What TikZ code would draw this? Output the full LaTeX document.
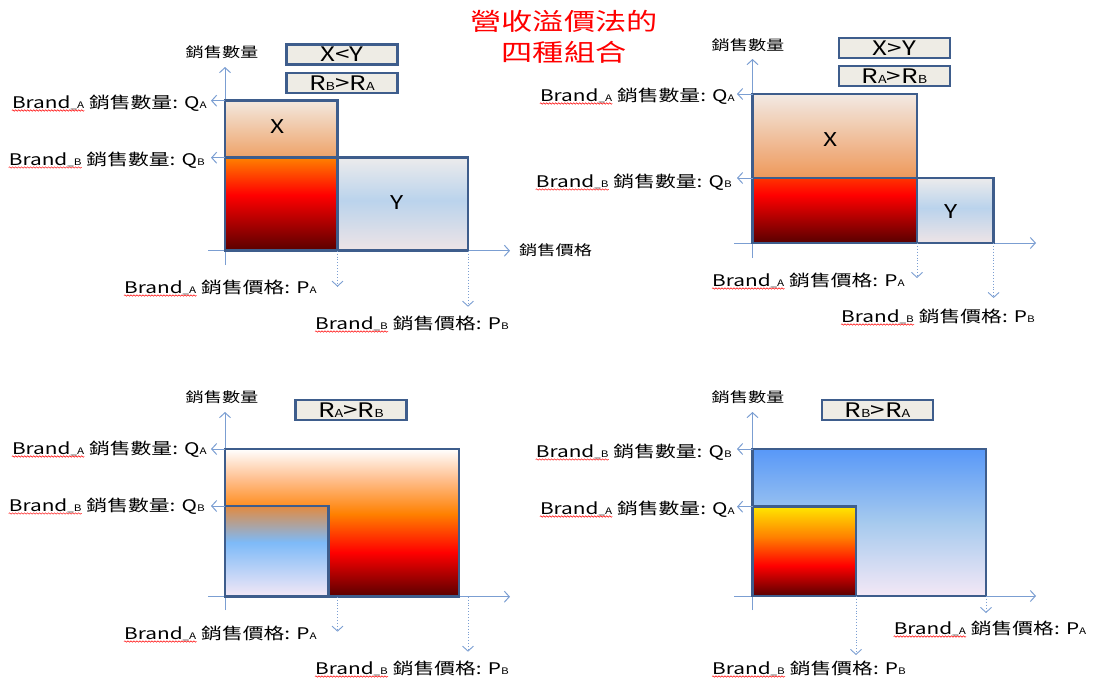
\documentclass[tikz,border=0pt]{standalone}
\usepackage{fontspec}
\setmainfont[FakeStretch=1.3]{Noto Sans CJK TC}
\usetikzlibrary{arrows.meta,decorations.pathmorphing}
\newcommand\sm[1]{{\fontsize{9}{9}\selectfont #1}}
\newcommand\smb[1]{{\fontsize{11}{11}\selectfont #1}}
\definecolor{axisc}{HTML}{7B9ED2}
\definecolor{rectc}{HTML}{3E5D8C}
\definecolor{boxc}{HTML}{EEECE5}
\definecolor{dkred}{HTML}{580000}
\definecolor{pured}{HTML}{FF0000}
\definecolor{oranA}{HTML}{FF8000}
\definecolor{redtop}{HTML}{FF3300}
\definecolor{peach}{HTML}{FFC090}
\definecolor{lav}{HTML}{F4E8F6}
\definecolor{ltblue}{HTML}{7DBAF8}
\definecolor{brorange}{HTML}{E28A40}
\definecolor{midblue}{HTML}{A6CAEE}
\definecolor{topblue}{HTML}{5898F8}
\definecolor{yel}{HTML}{FFE600}
\definecolor{xtopA}{HTML}{F3E8DE}
\definecolor{xbotA}{HTML}{EEA268}
\definecolor{xtopB}{HTML}{F2EAE4}
\definecolor{xbotB}{HTML}{EE985A}
\definecolor{ytop}{HTML}{ECEBEC}
\definecolor{ymid}{HTML}{BAD3EC}
\definecolor{ybot}{HTML}{EEE4E6}
\pgfdeclareverticalshading{redA}{100bp}{color(0bp)=(dkred); color(25bp)=(dkred); color(55bp)=(pured); color(75bp)=(oranA); color(100bp)=(oranA)}
\pgfdeclareverticalshading{redB}{100bp}{color(0bp)=(dkred); color(25bp)=(dkred); color(62bp)=(pured); color(75bp)=(redtop); color(100bp)=(redtop)}
\pgfdeclareverticalshading{bigA}{100bp}{color(0bp)=(dkred); color(25bp)=(dkred); color(40bp)=(pured); color(53bp)=(oranA); color(65bp)=(peach); color(75bp)=(white); color(100bp)=(white)}
\pgfdeclareverticalshading{smallB}{100bp}{color(0bp)=(lav); color(25bp)=(lav); color(55bp)=(ltblue); color(75bp)=(brorange); color(100bp)=(brorange)}
\pgfdeclareverticalshading{blueB}{100bp}{color(0bp)=(lav); color(25bp)=(lav); color(50bp)=(midblue); color(75bp)=(topblue); color(100bp)=(topblue)}
\pgfdeclareverticalshading{yelA}{100bp}{color(0bp)=(dkred); color(25bp)=(dkred); color(42bp)=(pured); color(58bp)=(oranA); color(75bp)=(yel); color(100bp)=(yel)}
\pgfdeclareverticalshading{yband}{100bp}{color(0bp)=(ybot); color(25bp)=(ybot); color(52bp)=(ymid); color(75bp)=(ytop); color(100bp)=(ytop)}
% label right-aligned at a baseline point: name, point, brand letter, rest
\newcommand\qlabel[4]{%
  \node[lbl, anchor=base east] (#1r) at (#2) {#4};
  \node[lbl, anchor=base east, xshift=-4.5pt] (#1b) at (#1r.base west) {Brand\sm{\_#3}};
  \draw[squig] ([yshift=-2.5pt]#1b.base west) -- ([yshift=-2.5pt]#1b.base east);}
% label left-aligned at a baseline point
\newcommand\plabel[4]{%
  \node[lbl, anchor=base west] (#1b) at (#2) {Brand\sm{\_#3}};
  \node[lbl, anchor=base west, xshift=4.5pt] (#1r) at (#1b.base east) {#4};
  \draw[squig] ([yshift=-2.5pt]#1b.base west) -- ([yshift=-2.5pt]#1b.base east);}
\begin{document}
\begin{tikzpicture}[x=1pt,y=-1pt,
  axis/.style={draw=axisc, line width=1pt, -{Straight Barb[length=5pt,width=11pt]}},
  guide/.style={draw=axisc, line width=0.9pt, dotted, -{Straight Barb[length=5pt,width=11pt]}},
  rectb/.style={draw=rectc, line width=2.5pt},
  tagbox/.style={draw=rectc, line width=2.5pt, fill=boxc, minimum width=111pt, minimum height=20pt, inner sep=0pt, font=\fontsize{20}{20}\selectfont},
  lbl/.style={inner sep=0pt, font=\fontsize{16}{16}\selectfont},
  squig/.style={draw=red, line width=0.5pt, decorate, decoration={snake, amplitude=0.7pt, segment length=3pt}},
  axl/.style={inner sep=0pt, font=\fontsize{14}{14}\selectfont},
  big/.style={inner sep=0pt, font=\fontsize{19}{19}\selectfont},
  ttl/.style={inner sep=0pt, text=red, font=\fontsize{24}{24}\selectfont}]
\useasboundingbox (0,0) rectangle (1093,680);
% title
\node[ttl] (t1) at (564,21) {營收溢價法的};
\node[ttl] (t2) at (564,52) {四種組合};

% ---------- top left ----------
\coordinate (tlyb) at (225,265); \coordinate (tlyt) at (225,67);
\coordinate (tlxl) at (208,250.7); \coordinate (tlxr) at (510,250.7);
\draw[axis] (tlyb) -- (tlyt);
\draw[axis] (tlxl) -- (tlxr);
\path[rectb, shading=yband] (337.5,157.7) rectangle (468,250.7);
\path[rectb, top color=xtopA, bottom color=xbotA] (225,100.7) rectangle (337.5,157.7);
\path[rectb, shading=redA] (225,157.7) rectangle (337.5,250.7);
\coordinate (tlqa) at (225,100.7); \coordinate (tlqae) at (211,100.7);
\coordinate (tlqb) at (225,157.7); \coordinate (tlqbe) at (211,157.7);
\draw[axis] (tlqa) -- (tlqae);
\draw[axis] (tlqb) -- (tlqbe);
\coordinate (tlpa) at (337.5,250.7); \coordinate (tlpae) at (337.5,286.7);
\coordinate (tlpb) at (468,250.7); \coordinate (tlpbe) at (468,306.7);
\draw[guide] (tlpa) -- (tlpae);
\draw[guide] (tlpb) -- (tlpbe);
\node[axl] (tlyl) at (222,52) {銷售數量};
\node[axl, anchor=west] (tlxlab) at (519,250) {銷售價格};
\node[tagbox] (tlb1) at (342,54.5) {X<Y};
\node[tagbox] (tlb2) at (342,83) {R\smb{B}>R\smb{A}};
\node[big] (tlx) at (278,127) {X};
\node[big] (tly) at (397.5,203) {Y};
\qlabel{tlla}{207,108}{A}{銷售數量: Q\sm{A}}
\qlabel{tllb}{205,165}{B}{銷售數量: Q\sm{B}}
\plabel{tllc}{124,293}{A}{銷售價格: P\sm{A}}
\plabel{tlld}{315,329}{B}{銷售價格: P\sm{B}}

% ---------- top right ----------
\coordinate (tryb) at (752.5,258); \coordinate (tryt) at (752.5,59);
\coordinate (trxl) at (734,243); \coordinate (trxr) at (1036,243);
\draw[axis] (tryb) -- (tryt);
\draw[axis] (trxl) -- (trxr);
\path[rectb, shading=yband] (917,178) rectangle (993.6,243);
\path[rectb, top color=xtopB, bottom color=xbotB] (752.5,94) rectangle (917,178);
\path[rectb, shading=redB] (752.5,178) rectangle (917,243);
\coordinate (trqa) at (752.5,94); \coordinate (trqae) at (737,94);
\coordinate (trqb) at (752.5,178); \coordinate (trqbe) at (737,178);
\draw[axis] (trqa) -- (trqae);
\draw[axis] (trqb) -- (trqbe);
\coordinate (trpa) at (917,243); \coordinate (trpae) at (917,278);
\coordinate (trpb) at (993.6,243); \coordinate (trpbe) at (993.6,298);
\draw[guide] (trpa) -- (trpae);
\draw[guide] (trpb) -- (trpbe);
\node[axl] (tryl) at (748,45) {銷售數量};
\node[tagbox] (trb1) at (894.5,48) {X>Y};
\node[tagbox] (trb2) at (894.5,76) {R\smb{A}>R\smb{B}};
\node[big] (trx) at (831,140) {X};
\node[big] (try) at (951,212) {Y};
\qlabel{trla}{735,101}{A}{銷售數量: Q\sm{A}}
\qlabel{trlb}{732,187}{B}{銷售數量: Q\sm{B}}
\plabel{trlc}{712,286}{A}{銷售價格: P\sm{A}}
\plabel{trld}{841,322}{B}{銷售價格: P\sm{B}}

% ---------- bottom left ----------
\coordinate (blyb) at (225,610); \coordinate (blyt) at (225,412);
\coordinate (blxl) at (208,596.7); \coordinate (blxr) at (510,596.7);
\draw[axis] (blyb) -- (blyt);
\draw[axis] (blxl) -- (blxr);
\path[rectb, shading=bigA] (225,449) rectangle (459,596.7);
\path[rectb, shading=smallB] (225,506) rectangle (328.6,596.7);
\coordinate (blqa) at (225,449); \coordinate (blqae) at (211,449);
\coordinate (blqb) at (225,506); \coordinate (blqbe) at (211,506);
\draw[axis] (blqa) -- (blqae);
\draw[axis] (blqb) -- (blqbe);
\coordinate (blpa) at (337.5,596.7); \coordinate (blpae) at (337.5,631.7);
\coordinate (blpb) at (468,596.7); \coordinate (blpbe) at (468,651.7);
\draw[guide] (blpa) -- (blpae);
\draw[guide] (blpb) -- (blpbe);
\node[axl] (blyl) at (222,397) {銷售數量};
\node[tagbox] (blb1) at (351,410) {R\smb{A}>R\smb{B}};
\qlabel{blla}{207,454}{A}{銷售數量: Q\sm{A}}
\qlabel{bllb}{205,511}{B}{銷售數量: Q\sm{B}}
\plabel{bllc}{124,639}{A}{銷售價格: P\sm{A}}
\plabel{blld}{315,674}{B}{銷售價格: P\sm{B}}

% ---------- bottom right ----------
\coordinate (bryb) at (752.5,610); \coordinate (bryt) at (752.5,412);
\coordinate (brxl) at (734,596); \coordinate (brxr) at (1036,596);
\draw[axis] (bryb) -- (bryt);
\draw[axis] (brxl) -- (brxr);
\path[rectb, shading=blueB] (752.5,449) rectangle (986,596);
\path[rectb, shading=yelA] (752.5,506.7) rectangle (856,596);
\coordinate (brqb) at (752.5,449); \coordinate (brqbe) at (737,449);
\coordinate (brqa) at (752.5,506.7); \coordinate (brqae) at (737,506.7);
\draw[axis] (brqb) -- (brqbe);
\draw[axis] (brqa) -- (brqae);
\coordinate (brpa) at (986,596); \coordinate (brpae) at (986,613);
\coordinate (brpb) at (856,596); \coordinate (brpbe) at (856,655);
\draw[guide] (brpa) -- (brpae);
\draw[guide] (brpb) -- (brpbe);
\node[axl] (bryl) at (748,397) {銷售數量};
\node[tagbox] (brb1) at (877.5,410) {R\smb{B}>R\smb{A}};
\qlabel{brla}{732,457}{B}{銷售數量: Q\sm{B}}
\qlabel{brlb}{735,514}{A}{銷售數量: Q\sm{A}}
\plabel{brlc}{893.6,634}{A}{銷售價格: P\sm{A}}
\plabel{brld}{712,674}{B}{銷售價格: P\sm{B}}
\end{tikzpicture}
\end{document}
